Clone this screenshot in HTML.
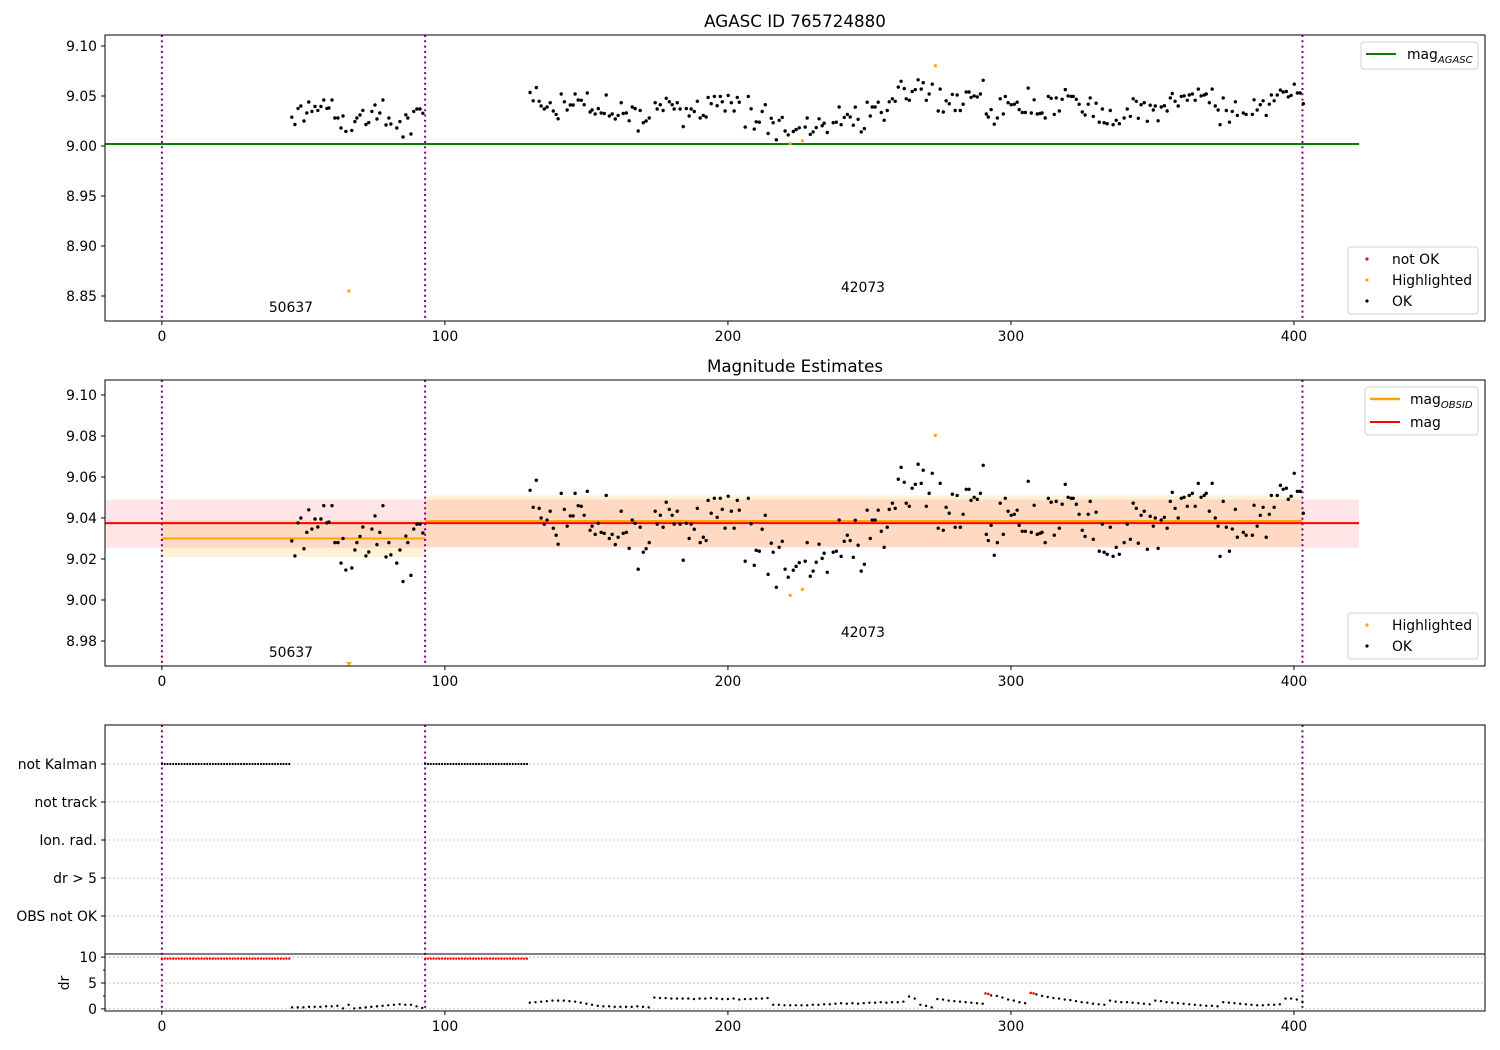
<!DOCTYPE html>
<html><head><meta charset="utf-8"><title>AGASC ID 765724880</title>
<style>
html,body{margin:0;padding:0;background:#fff;}
svg{display:block;font-family:"DejaVu Sans","Liberation Sans",sans-serif;}
</style></head>
<body>
<svg id="fig" width="1500" height="1050" viewBox="0 0 1500 1050" xmlns="http://www.w3.org/2000/svg"></svg>
<script>
// ---------- data ----------
const okT = [45.9,47.0,48.1,49.1,50.2,51.2,51.9,53.0,54.1,55.1,56.2,57.2,58.3,59.0,60.1,61.1,62.2,63.3,64.0,65.0,67.1,68.2,68.9,70.0,71.0,72.1,73.1,74.2,75.3,76.0,77.0,78.1,79.2,80.2,80.9,83.0,84.1,85.2,86.2,86.9,88.0,89.0,90.1,91.2,92.2,
130.1,131.2,132.3,133.3,134.0,135.1,136.1,137.2,138.3,139.3,140.0,141.1,142.2,143.2,144.3,145.3,146.0,147.1,148.2,149.2,150.3,151.3,152.0,153.1,154.2,155.2,156.3,157.0,158.1,159.1,160.2,161.2,162.3,163.0,164.1,165.1,166.2,167.2,168.3,169.0,170.1,171.1,172.2,174.3,175.0,176.1,177.1,178.2,179.3,180.3,181.0,182.1,183.1,184.2,185.3,186.3,187.0,188.1,189.2,190.2,191.3,192.3,193.0,194.1,195.2,196.2,
197.3,198.0,199.0,200.1,201.2,202.2,203.3,204.0,206.1,207.2,208.2,209.3,210.0,211.1,212.1,213.2,214.2,215.3,216.0,217.1,218.1,219.2,220.2,221.3,223.1,224.1,225.2,227.3,228.0,229.1,230.1,231.2,232.2,233.3,234.0,235.1,237.2,238.3,239.3,240.0,241.1,242.2,243.2,244.3,245.0,246.0,247.1,248.2,249.2,250.3,251.0,252.0,253.1,254.2,255.2,256.3,257.0,258.1,259.1,260.2,261.2,262.3,263.0,264.1,265.1,266.2,267.2,268.3,269.0,270.1,271.1,272.2,274.3,275.0,276.1,277.1,278.2,279.3,280.3,281.0,282.1,283.1,284.2,285.2,285.9,287.0,288.1,289.2,290.2,291.3,292.0,293.0,294.1,295.2,296.2,297.3,298.0,299.0,300.1,301.2,302.2,302.9,
304.0,305.1,306.1,307.2,308.2,309.3,310.3,311.0,312.1,313.2,314.2,315.3,316.0,317.1,318.1,319.2,320.2,321.3,322.0,323.1,324.1,325.2,326.2,327.3,328.0,329.1,330.1,331.2,332.3,332.9,334.0,335.1,336.1,337.2,338.3,340.0,341.1,342.2,343.2,344.3,345.0,346.0,347.1,348.2,349.2,350.3,351.0,352.0,353.1,354.2,355.2,356.3,357.0,358.0,359.1,360.2,361.2,362.3,363.0,364.1,365.1,366.2,367.2,368.3,369.0,370.1,371.1,372.2,373.2,373.9,375.0,376.1,377.2,378.2,379.3,380.0,382.1,383.1,385.3,385.9,387.0,388.1,389.1,390.2,391.3,392.0,393.0,394.1,395.2,396.2,397.3,398.0,399.0,400.1,401.2,402.2,403.3];
const okMag = [9.0288,9.0215,9.0376,9.040,9.025,9.033,9.044,9.0346,9.0395,9.0356,9.0395,9.046,9.0376,9.038,9.046,9.028,9.028,9.018,9.030,9.0146,9.0156,9.0244,9.028,9.031,9.0356,9.0215,9.0234,9.0346,9.041,9.027,9.033,9.046,9.021,9.028,9.022,9.018,9.0244,9.009,9.0312,9.028,9.012,9.0346,9.037,9.037,9.0327,
9.0535,9.0452,9.0584,9.0447,9.040,9.037,9.039,9.0433,9.035,9.0316,9.0272,9.052,9.0442,9.036,9.041,9.041,9.052,9.046,9.0457,9.0413,9.053,9.034,9.036,9.032,9.0374,9.033,9.0325,9.051,9.030,9.032,9.027,9.0306,9.0433,9.0325,9.033,9.0252,9.039,9.0374,9.015,9.0355,9.0233,9.025,9.028,9.0433,9.037,9.0413,9.0355,9.0477,9.0442,9.0413,9.037,9.0433,9.037,9.0194,9.0374,9.030,9.037,9.0345,9.0447,9.028,9.0306,9.029,9.0486,9.0423,9.0496,9.0403,
9.0496,9.0442,9.035,9.0506,9.0433,9.035,9.0486,9.0438,9.0189,9.0496,9.0372,9.0169,9.0242,9.0238,9.0345,9.0413,9.0125,9.0277,9.0233,9.0062,9.0257,9.0286,9.015,9.0111,9.0145,9.0164,9.0182,9.0189,9.028,9.0116,9.0141,9.0184,9.0272,9.0203,9.0228,9.0135,9.0233,9.0238,9.039,9.0213,9.0286,9.0316,9.029,9.0208,9.0389,9.0267,9.0141,9.0174,9.0438,9.030,9.039,9.039,9.0438,9.0335,9.0257,9.0355,9.0442,9.0472,9.0447,9.0589,9.0647,9.0574,9.0472,9.0457,9.0545,9.0564,9.0662,9.0569,9.0633,9.0457,9.052,9.0618,9.035,9.0569,9.034,9.0452,9.0423,9.0516,9.0355,9.051,9.0355,9.0418,9.054,9.054,9.0486,9.0501,9.0491,9.052,9.0657,9.032,9.029,9.0364,9.0218,9.028,9.0472,9.032,9.0496,9.0433,9.0413,9.0418,9.0438,9.0364,
9.0335,9.0335,9.0579,9.033,9.0462,9.032,9.0325,9.033,9.028,9.0496,9.0477,9.0316,9.0481,9.035,9.0467,9.0564,9.0501,9.0496,9.0496,9.0467,9.0418,9.034,9.031,9.0418,9.0481,9.0296,9.0428,9.0238,9.037,9.0233,9.0223,9.0355,9.0213,9.0257,9.0223,9.028,9.037,9.0296,9.0472,9.0447,9.0277,9.0413,9.0433,9.0247,9.0408,9.036,9.040,9.0252,9.039,9.0403,9.035,9.0481,9.0525,9.0447,9.040,9.0496,9.0501,9.0457,9.051,9.052,9.0457,9.0569,9.0501,9.051,9.052,9.0433,9.0569,9.040,9.036,9.0213,9.0481,9.0355,9.0238,9.0346,9.0442,9.0306,9.033,9.0316,9.0316,9.0462,9.036,9.0413,9.0452,9.0306,9.0418,9.051,9.0452,9.051,9.0559,9.054,9.0545,9.0491,9.0506,9.0618,9.053,9.053,9.0423];
const hiT = [66.1,222.0,226.3,273.3];
const hiMag = [8.855,9.0023,9.0052,9.0803];
const magAgasc = 9.002;
const magMean = 9.0375, magMeanLo = 9.0255, magMeanHi = 9.049;
const obsStart = [0,93];
const obsEnd = [93,403];
const obsMag = [9.030,9.0385];
const obsLo = [9.021,9.026];
const obsHi = [9.039,9.051];
const obsIds = ["50637","42073"];
const obsLabelT = [45.6,247.7];
const obsBounds = [0,93,403];
const flagLabels = ["not Kalman","not track","Ion. rad.","dr > 5","OBS not OK"];
const kalmanStart = [0,93];
const kalmanEnd = [45,129];
const drT = [46,48,50,52,54,56,58,60,62,64,66,68,70,72,74,76,78,80,82,84,86,88,90,92,
130,132,134,136,138,140,142,144,146,148,150,152,154,156,158,160,162,164,166,168,170,172,
174,176,178,180,182,184,186,188,190,192,194,196,198,200,202,204,206,208,210,212,214,
216,218,220,222,224,226,228,230,232,234,236,238,240,242,244,246,248,250,252,254,256,258,260,262,
264,266,268,270,272,274,276,278,280,282,284,286,288,290,
293,295,297,299,301,303,305,309,311,313,315,317,319,321,323,325,327,329,331,333,
335,337,339,341,343,345,347,349,351,353,355,357,359,361,363,365,367,369,371,373,
375,377,379,381,383,385,387,389,391,393,395,397,399,401,403];
const drV = [0.3,0.3,0.3,0.4,0.4,0.4,0.5,0.5,0.6,0.1,0.8,0.1,0.2,0.3,0.4,0.5,0.6,0.7,0.8,0.9,0.8,0.8,0.5,0.2,
1.2,1.3,1.4,1.5,1.6,1.6,1.6,1.5,1.4,1.2,1.0,0.8,0.6,0.5,0.5,0.4,0.4,0.4,0.4,0.5,0.4,0.3,
2.2,2.1,2.1,2.0,2.0,2.0,2.0,1.9,2.0,2.0,2.1,2.0,1.9,1.9,2.0,1.8,1.9,1.9,2.0,2.0,2.1,
0.8,0.8,0.7,0.7,0.7,0.7,0.7,0.8,0.8,0.9,0.9,1.0,1.1,1.0,1.1,1.0,1.1,1.2,1.2,1.3,1.2,1.3,1.3,1.4,
2.4,2.0,0.8,0.6,0.3,1.9,1.8,1.6,1.5,1.4,1.3,1.2,1.1,1.0,
2.6,2.5,2.2,1.8,1.6,1.3,1.1,2.8,2.5,2.3,2.1,2.0,1.8,1.7,1.5,1.3,1.2,1.0,0.9,0.8,
1.6,1.4,1.3,1.3,1.2,1.1,1.0,0.9,1.6,1.5,1.3,1.2,1.1,1.0,0.9,0.8,0.7,0.6,0.6,0.5,
1.3,1.2,1.1,1.0,0.9,0.8,0.7,0.7,0.8,0.8,0.9,2.0,2.0,1.8,1.3];
const drBadT = [291,292,307,308];
const drBadV = [3.0,2.9,3.1,3.0];
const drFlagV = 9.7;
const xTicks = [0,100,200,300,400];
const y1Ticks = [8.85,8.90,8.95,9.00,9.05,9.10];
const y2Ticks = [8.98,9.00,9.02,9.04,9.06,9.08,9.10];
const drTicks = [0,5,10];

// ---------- helpers ----------
const NS='http://www.w3.org/2000/svg';
const svg=document.getElementById('fig');
function mk(tag,attrs,parent){const e=document.createElementNS(NS,tag);for(const k in attrs)e.setAttribute(k,attrs[k]);(parent||svg).appendChild(e);return e;}
const L=105,R=1485;
const XMIN=-20.1,XMAX=467.5;
function sx(t){return L+(t-XMIN)/(XMAX-XMIN)*(R-L);}
function lin(d0,d1,p0,p1){return v=>p0+(v-d0)/(d1-d0)*(p1-p0);}
const P1={top:35,bot:321,y:lin(8.825,9.111,321,35)};
const P2={top:380,bot:666,y:lin(8.9678,9.1073,666,380)};
const P3={top:725,bot:1011,sep:954};
const yDr=lin(-0.4,10.6,1011,954);
const fs=13.9;

function text(x,y,s,anchor,parent,size,name){
  const e=mk('text',{x:x,y:y,'font-size':size||fs,'text-anchor':anchor||'middle',fill:'#000'},parent);
  e.textContent=s;
  
  
  return e;
}
function xAxis(bot,g){
  xTicks.forEach(t=>{
    const x=sx(t);
    const l=mk('line',{x1:x,x2:x,y1:bot,y2:bot+4,stroke:'#000','stroke-width':1},g);
    
    
    text(x,bot+20,String(t),'middle',g,fs,'x-tick-label');
  });
}
function yAxis(ticks,ys,top,bot,g,dec){
  ticks.forEach(v=>{
    const y=ys(v);
    if(y<top-1||y>bot+1)return;
    const l=mk('line',{x1:L-4,x2:L,y1:y,y2:y,stroke:'#000','stroke-width':1},g);
    
    
    text(L-8,y+5,v.toFixed(dec),'end',g,fs,'y-tick-label');
  });
}
function frame(top,bot,g){
  const r=mk('rect',{x:L,y:top,width:R-L,height:bot-top,fill:'none',stroke:'#000','stroke-width':1},g);
  
  
}
function vlines(top,bot,g){
  obsBounds.forEach(t=>{
    const l=mk('line',{x1:sx(t),x2:sx(t),y1:top,y2:bot,stroke:'#800080','stroke-width':2,'stroke-dasharray':'2,3.3'},g);
    
    
  });
}
function dots(ts,vs,ys,color,r,g,name,top,bot){
  ts.forEach((t,i)=>{
    let y=ys(vs[i]);
    if(y>bot){ // off-scale: draw triangle at bottom
      const x=sx(t);
      const p=mk('polygon',{points:`${x-3},${bot-4} ${x+3},${bot-4} ${x},${bot}`,fill:color},g);
      
      
      return;
    }
    if(y<top)return;
    const c=mk('circle',{cx:sx(t),cy:y,r:r,fill:color},g);
    
    
  });
}
function legendBox(x,y,w,h,g){
  const r=mk('rect',{x:x,y:y,width:w,height:h,rx:3,fill:'#fff','fill-opacity':0.8,stroke:'#d0d0d0','stroke-width':1},g);
  
  
}
function magLabel(x,y,sub,g,name){
  const e=mk('text',{x:x,y:y,'font-size':fs,fill:'#000'},g);
  
  
  const a=mk('tspan',{},e);a.textContent='mag';
  if(sub){const b=mk('tspan',{'font-size':10,'font-style':'italic',dy:4},e);b.textContent=sub;}
}

// ---------- panel 1 ----------
const g1=mk('g',{});


text(795,27,'AGASC ID 765724880','middle',g1,16.7,'chart-title');
const ag=mk('line',{x1:L,x2:sx(423),y1:P1.y(magAgasc),y2:P1.y(magAgasc),stroke:'#008000','stroke-width':2},g1);


vlines(P1.top,P1.bot,g1);
dots(okT,okMag,P1.y,'#000',1.7,g1,'ok-point',P1.top,P1.bot);
dots(hiT,hiMag,P1.y,'#FFA500',1.6,g1,'highlighted-point',P1.top,P1.bot);
obsIds.forEach((s,i)=>text(sx(obsLabelT[i]),i==0?312:292,s,'middle',g1,fs,'obsid-label'));
frame(P1.top,P1.bot,g1);
xAxis(P1.bot,g1);
yAxis(y1Ticks,P1.y,P1.top,P1.bot,g1,2);
legendBox(1361,42,117,27,g1);
let lg=mk('line',{x1:1366,x2:1396,y1:54,y2:54,stroke:'#008000','stroke-width':2},g1);

magLabel(1407,59,'AGASC',g1,'legend-agasc-label');
legendBox(1348,247,130,67,g1);
[['#ff0000','not OK',259],['#FFA500','Highlighted',280],['#000','OK',301]].forEach(([c,s,y])=>{
  const d=mk('circle',{cx:1367,cy:y,r:1.6,fill:c},g1);
  
  text(1392,y+5,s,'start',g1,fs,'legend-entry');
});

// ---------- panel 2 ----------
const g2=mk('g',{});


text(795,372,'Magnitude Estimates','middle',g2,16.7,'chart-title');
const clip=mk('clipPath',{id:'c2'},g2);mk('rect',{x:L,y:P2.top,width:R-L,height:P2.bot-P2.top},clip);
const gc=mk('g',{'clip-path':'url(#c2)'},g2);

obsStart.forEach((s,i)=>{
  const b=mk('rect',{x:sx(s),y:P2.y(obsHi[i]),width:sx(obsEnd[i])-sx(s),height:P2.y(obsLo[i])-P2.y(obsHi[i]),fill:'#FFA500','fill-opacity':0.15},gc);
  
});
const mb=mk('rect',{x:L,y:P2.y(magMeanHi),width:sx(423)-L,height:P2.y(magMeanLo)-P2.y(magMeanHi),fill:'#ff0000','fill-opacity':0.1},gc);

obsStart.forEach((s,i)=>{
  const l=mk('line',{x1:sx(s),x2:sx(obsEnd[i]),y1:P2.y(obsMag[i]),y2:P2.y(obsMag[i]),stroke:'#FFA500','stroke-width':2},gc);
  
});
const ml=mk('line',{x1:L,x2:sx(423),y1:P2.y(magMean),y2:P2.y(magMean),stroke:'#ff0000','stroke-width':2},gc);

vlines(P2.top,P2.bot,g2);
dots(okT,okMag,P2.y,'#000',1.7,g2,'ok-point',P2.top,P2.bot);
dots(hiT,hiMag,P2.y,'#FFA500',1.6,g2,'highlighted-point',P2.top,P2.bot);
obsIds.forEach((s,i)=>text(sx(obsLabelT[i]),i==0?657:637,s,'middle',g2,fs,'obsid-label'));
frame(P2.top,P2.bot,g2);
xAxis(P2.bot,g2);
yAxis(y2Ticks,P2.y,P2.top,P2.bot,g2,2);
legendBox(1365,387,113,48,g2);
lg=mk('line',{x1:1370,x2:1400,y1:399,y2:399,stroke:'#FFA500','stroke-width':2.5},g2);

magLabel(1410,404,'OBSID',g2,'legend-obsid-label');
lg=mk('line',{x1:1370,x2:1400,y1:422,y2:422,stroke:'#ff0000','stroke-width':2},g2);

magLabel(1410,427,'',g2,'legend-mag-label');
legendBox(1348,613,130,46,g2);
[['#FFA500','Highlighted',625],['#000','OK',646]].forEach(([c,s,y])=>{
  const d=mk('circle',{cx:1367,cy:y,r:1.6,fill:c},g2);
  
  text(1392,y+5,s,'start',g2,fs,'legend-entry');
});

// ---------- panel 3 ----------
const g3=mk('g',{});


const flagY=i=>764+i*38;
flagLabels.forEach((s,i)=>{
  const y=flagY(i);
  const gl=mk('line',{x1:L,x2:R,y1:y,y2:y,stroke:'#b0b0b0','stroke-width':1,'stroke-dasharray':'1.5,2.5'},g3);
  
  const tk=mk('line',{x1:L-4,x2:L,y1:y,y2:y,stroke:'#000'},g3);
  
  text(L-8,y+5,s,'end',g3,fs,'flag-label');
});
drTicks.forEach(v=>{
  const y=yDr(v);
  const gl=mk('line',{x1:L,x2:R,y1:y,y2:y,stroke:'#b0b0b0','stroke-width':1,'stroke-dasharray':'1.5,2.5'},g3);
  
  const tk=mk('line',{x1:L-4,x2:L,y1:y,y2:y,stroke:'#000'},g3);
  
  text(L-8,y+5,String(v),'end',g3,fs,'dr-tick-label');
});
[2.5,7.5].forEach(v=>{
  const tk=mk('line',{x1:L-2,x2:L,y1:yDr(v),y2:yDr(v),stroke:'#000'},g3);
  
});
const drl=text(0,0,'dr','middle',g3,fs,'dr-axis-title');
drl.setAttribute('transform',`translate(69,${yDr(5)}) rotate(-90)`);
vlines(P3.top,P3.bot,g3);
kalmanStart.forEach((s,i)=>{
  for(let t=s;t<=kalmanEnd[i];t+=1){
    const c=mk('circle',{cx:sx(t),cy:flagY(0),r:1.1,fill:'#000'},g3);
    
    const r=mk('circle',{cx:sx(t),cy:yDr(drFlagV),r:1.2,fill:'#ff0000'},g3);
    
  }
});
dots(drT,drV,yDr,'#000',1.2,g3,'dr-point',P3.sep,P3.bot);
dots(drBadT,drBadV,yDr,'#ff0000',1.3,g3,'dr-bad-point',P3.sep,P3.bot);
frame(P3.top,P3.bot,g3);
const sep=mk('line',{x1:L,x2:R,y1:P3.sep,y2:P3.sep,stroke:'#000','stroke-width':1},g3);

xAxis(P3.bot,g3);
</script>
</body></html>
